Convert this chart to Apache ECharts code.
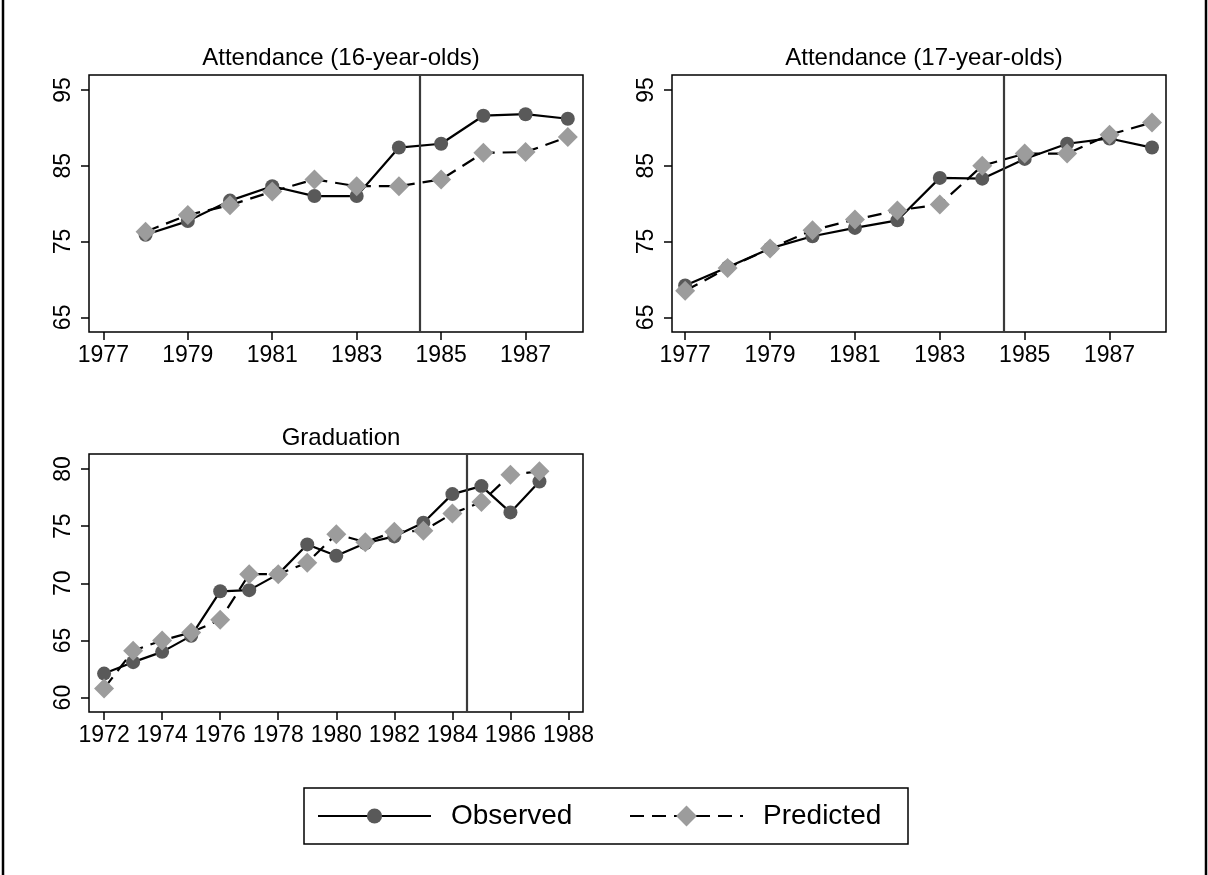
<!DOCTYPE html>
<html lang="en">
<head>
<meta charset="UTF-8">
<title>Attendance and graduation</title>
<script src="https://cdn.jsdelivr.net/npm/echarts@6/dist/echarts.min.js"></script>
<style>
  html, body { margin: 0; padding: 0; background: #fff; }
  #chart { width: 1208px; height: 875px; }
</style>
</head>
<body>
<div id="chart"></div>
<script>
// panel 1: attendance, 16-year-olds
var years16 = [1978, 1979, 1980, 1981, 1982, 1983, 1984, 1985, 1986, 1987, 1988];
var obs16   = [75.9, 77.7, 80.4, 82.3, 81.0, 81.0, 87.4, 87.9, 91.6, 91.8, 91.2];
var pred16  = [76.3, 78.5, 79.8, 81.6, 83.2, 82.3, 82.3, 83.2, 86.7, 86.8, 88.8];

// panel 2: attendance, 17-year-olds
var years17 = [1977, 1978, 1979, 1980, 1981, 1982, 1983, 1984, 1985, 1986, 1987, 1988];
var obs17   = [69.2, 71.6, 74.1, 75.7, 76.8, 77.8, 83.4, 83.3, 85.9, 87.9, 88.6, 87.4];
var pred17  = [68.5, 71.5, 74.1, 76.5, 77.9, 79.1, 79.9, 85.0, 86.6, 86.6, 89.1, 90.7];

// panel 3: graduation
var yearsGrad = [1972, 1973, 1974, 1975, 1976, 1977, 1978, 1979, 1980, 1981, 1982, 1983, 1984, 1985, 1986, 1987];
var obsGrad   = [62.1, 63.1, 64.0, 65.4, 69.3, 69.4, 70.8, 73.4, 72.4, 73.5, 74.1, 75.3, 77.8, 78.5, 76.2, 78.9];
var predGrad  = [60.8, 64.1, 65.0, 65.7, 66.8, 70.8, 70.8, 71.8, 74.3, 73.6, 74.5, 74.6, 76.1, 77.1, 79.5, 79.8];

// tick labels
var xTicksAtt  = [1977, 1979, 1981, 1983, 1985, 1987];
var xTicksGrad = [1972, 1974, 1976, 1978, 1980, 1982, 1984, 1986, 1988];
var yTicksAtt  = [65, 75, 85, 95];
var yTicksGrad = [60, 65, 70, 75, 80];

var titles = ["Attendance (16-year-olds)", "Attendance (17-year-olds)", "Graduation"];
var cutoff = 1984.5;

var FONT = "'Liberation Sans', Arial, sans-serif";

var grids = [
    {left: 89, top: 75, width: 494, height: 257},
    {left: 672, top: 75, width: 494, height: 257},
    {left: 89, top: 454, width: 494, height: 258}
];

function plain(v) { return String(v); }  // no thousands separator on years

function xAxisOf(i, min, max, ticks) {
    return {
        type: "value", gridIndex: i, min: min, max: max,
        splitLine: {show: false},
        axisLine: {show: false},
        axisTick: {show: true, length: 8, customValues: ticks, lineStyle: {color: "#000", width: 1.5}},
        axisLabel: {customValues: ticks, formatter: plain, margin: 12, color: "#000", fontSize: 23, fontFamily: FONT}
    };
}

function yAxisOf(i, min, max, ticks) {
    return {
        type: "value", gridIndex: i, min: min, max: max,
        splitLine: {show: false},
        axisLine: {show: false},
        axisTick: {show: true, length: 8, customValues: ticks, lineStyle: {color: "#000", width: 1.5}},
        axisLabel: {customValues: ticks, formatter: plain, rotate: 90, margin: 14, color: "#000", fontSize: 23, fontFamily: FONT}
    };
}

function zip(xs, ys) {
    var out = [];
    for (var i = 0; i < xs.length; i++) out.push([xs[i], ys[i]]);
    return out;
}

function panelSeries(i, years, obs, pred) {
    return [
        {
            name: "Observed", type: "line", xAxisIndex: i, yAxisIndex: i,
            data: zip(years, obs),
            symbol: "circle", symbolSize: 14,
            itemStyle: {color: "#595959"},
            lineStyle: {color: "#000", width: 2.2, type: "solid"},
            markLine: {
                silent: true, symbol: "none", label: {show: false},
                lineStyle: {color: "#3a3a3a", width: 2.2, type: "solid"},
                data: [{xAxis: cutoff}]
            }
        },
        {
            name: "Predicted", type: "line", xAxisIndex: i, yAxisIndex: i,
            data: zip(years, pred),
            symbol: "diamond", symbolSize: 20,
            itemStyle: {color: "#9c9c9c"},
            lineStyle: {color: "#000", width: 2.2, type: [14, 8]}
        }
    ];
}

var chart = echarts.init(document.getElementById("chart"), null, {renderer: "canvas"});

var titleStyle = {fontSize: 24, fontWeight: "normal", color: "#000", fontFamily: FONT};
var legendText = {fontSize: 28, color: "#000", fontFamily: FONT, padding: [0, 0, 0, 15]};

var option = {
    animation: false,
    backgroundColor: "#fff",
    textStyle: {fontFamily: FONT},
    title: [
        {text: titles[0], left: 336, top: 41, textAlign: "center", textStyle: titleStyle},
        {text: titles[1], left: 919, top: 41, textAlign: "center", textStyle: titleStyle},
        {text: titles[2], left: 336, top: 421, textAlign: "center", textStyle: titleStyle}
    ],
    grid: grids.map(function (g) {
        return {left: g.left, top: g.top, width: g.width, height: g.height,
                show: true, borderColor: "#000", borderWidth: 1.5, backgroundColor: "#fff"};
    }),
    xAxis: [
        xAxisOf(0, 1976.66, 1988.36, xTicksAtt),
        xAxisOf(1, 1976.69, 1988.33, xTicksAtt),
        xAxisOf(2, 1971.48, 1988.5, xTicksGrad)
    ],
    yAxis: [
        yAxisOf(0, 63.07, 96.97, yTicksAtt),
        yAxisOf(1, 63.07, 96.97, yTicksAtt),
        yAxisOf(2, 58.74, 81.31, yTicksGrad)
    ],
    // two legends so the diamond can be drawn larger than the circle; box drawn as graphic
    legend: [
        {data: ["Observed"], left: 317, top: 802, padding: 0,
         itemWidth: 113, itemHeight: 19, textStyle: legendText},
        {data: ["Predicted"], left: 629, top: 802, padding: 0,
         itemWidth: 113, itemHeight: 26, textStyle: legendText}
    ],
    graphic: [
        {type: "rect", shape: {x: 304, y: 788, width: 604, height: 56},
         style: {fill: "none", stroke: "#000", lineWidth: 1.5}},
        {type: "line", shape: {x1: 3, y1: 0, x2: 3, y2: 875}, style: {stroke: "#000", lineWidth: 2.5}},
        {type: "line", shape: {x1: 1206, y1: 0, x2: 1206, y2: 875}, style: {stroke: "#000", lineWidth: 2.5}}
    ],
    series: []
        .concat(panelSeries(0, years16, obs16, pred16))
        .concat(panelSeries(1, years17, obs17, pred17))
        .concat(panelSeries(2, yearsGrad, obsGrad, predGrad))
};

chart.setOption(option);
</script>
</body>
</html>
